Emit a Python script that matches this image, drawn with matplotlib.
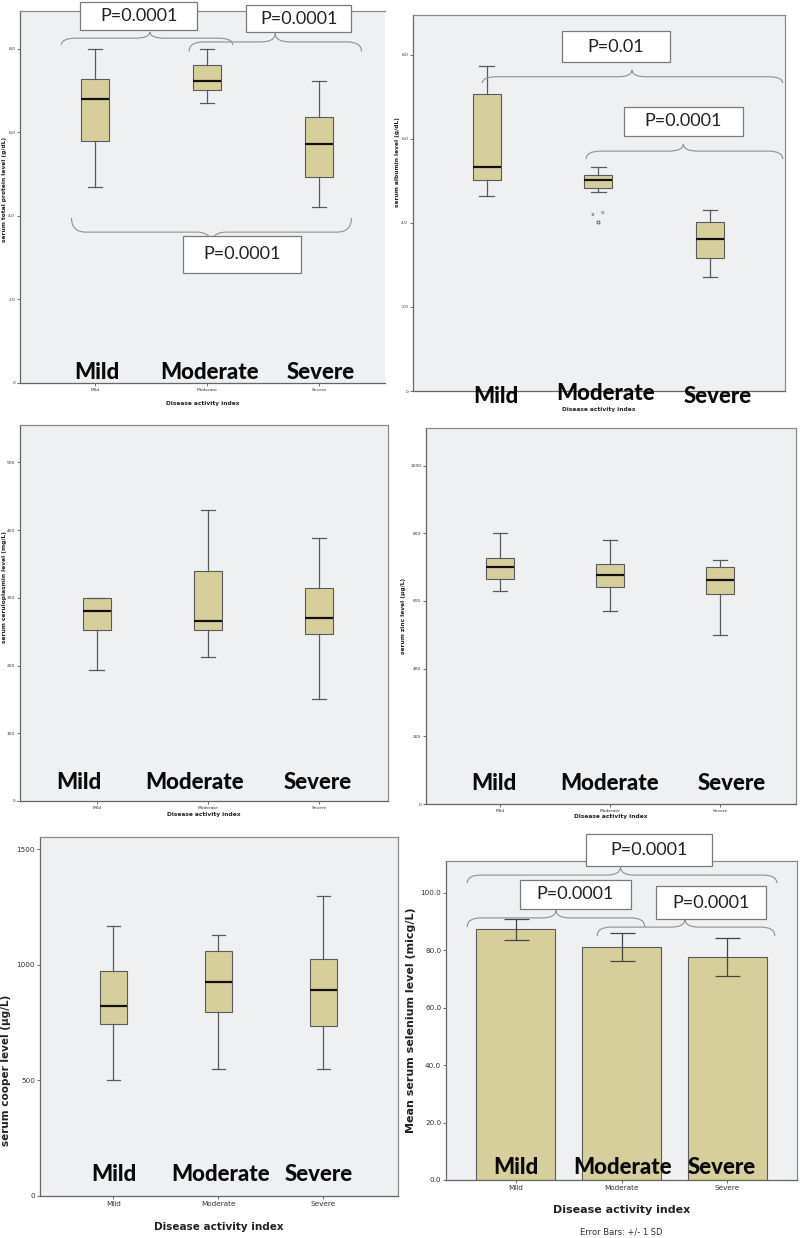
import matplotlib
matplotlib.use("Agg")
import matplotlib.pyplot as plt
from matplotlib.path import Path
from matplotlib.patches import PathPatch, Rectangle

W, H = 800, 1238

groups = ["Mild", "Moderate", "Severe"]
positions = [1, 2, 3]

# box summaries: [low whisker, Q1, median, Q3, high whisker]
protein_stats = [[4.7, 5.8, 6.8, 7.27, 8.0],
                 [6.7, 7.0, 7.22, 7.61, 8.0],
                 [4.2, 4.94, 5.71, 6.36, 7.22]]
albumin_stats = [[4.63, 5.03, 5.33, 7.08, 7.74],
                 [4.73, 4.83, 5.03, 5.13, 5.33],
                 [2.71, 3.17, 3.62, 4.02, 4.32]]
albumin_outlier = 4.03
albumin_outlier_ids = ["34", "52"]
cerulo_stats = [[193, 253, 281, 299, 300],
                [213, 252, 266, 340, 430],
                [150, 246, 270, 315, 388]]
zinc_stats = [[630, 665, 701, 727, 800],
              [570, 640, 677, 710, 780],
              [500, 621, 661, 701, 721]]
copper_stats = [[504, 743, 822, 974, 1170],
                [551, 795, 926, 1061, 1130],
                [551, 736, 892, 1025, 1299]]
selenium_mean = [87.2, 81.0, 77.6]
selenium_sd = [3.6, 4.9, 6.5]

BG = "#eff0f2"
FILL = "#d6cf9c"
EDGE = "#5a5a5a"
BRACE = "#8f8f8f"
BIG = dict(family="Lato", fontsize=16, fontweight=900, color="#0a0a0a")
PFONT = dict(family="Lato", fontsize=13, color="#222222")

fig = plt.figure(figsize=(W / 100, H / 100), dpi=100)


def make_axes(x0, y0, x1, y1):
    return fig.add_axes([x0 / W, 1 - y1 / H, (x1 - x0) / W, (y1 - y0) / H])


def style(ax, xlim, ylim, yticks, ylabels, small=3.2, show_x=True):
    ax.set_facecolor(BG)
    ax.set_xlim(*xlim)
    ax.set_ylim(*ylim)
    ax.set_yticks(yticks)
    ax.set_yticklabels(ylabels)
    ax.set_xticks(positions)
    ax.set_xticklabels(groups if show_x else ["", "", ""])
    ax.tick_params(labelsize=small, length=2, width=0.6, color="#555555",
                   pad=1.5, labelcolor="#333333")
    for s in ax.spines.values():
        s.set_color("#8c8c8c")
        s.set_linewidth(0.9)
    ax.spines["bottom"].set_color("#666666")
    ax.spines["left"].set_color("#666666")


def draw_boxes(ax, stats):
    bx = [dict(whislo=s[0], q1=s[1], med=s[2], q3=s[3], whishi=s[4], fliers=[])
          for s in stats]
    ax.bxp(bx, positions=positions, widths=0.25, patch_artist=True,
           showfliers=False, manage_ticks=False,
           boxprops=dict(facecolor=FILL, edgecolor=EDGE, linewidth=0.8),
           medianprops=dict(color="#111111", linewidth=1.6),
           whiskerprops=dict(color=EDGE, linewidth=0.9),
           capprops=dict(color=EDGE, linewidth=0.9), capwidths=0.13)


def brace(ax, x0, x1, tip, y_end, y_line, y_tip, dx=0.13):
    verts = [(x0, y_end), (x0, y_line), (x0 + dx, y_line),
             (tip - dx, y_line), (tip, y_line), (tip, y_tip),
             (tip, y_line), (tip + dx, y_line),
             (x1 - dx, y_line), (x1, y_line), (x1, y_end)]
    codes = [Path.MOVETO, Path.CURVE3, Path.CURVE3,
             Path.LINETO, Path.CURVE3, Path.CURVE3,
             Path.CURVE3, Path.CURVE3,
             Path.LINETO, Path.CURVE3, Path.CURVE3]
    ax.add_patch(PathPatch(Path(verts, codes), facecolor="none",
                           edgecolor=BRACE, linewidth=0.8, clip_on=False,
                           zorder=5))


def pbox(ax, x0, x1, y0, y1, text):
    ax.add_patch(Rectangle((x0, y0), x1 - x0, y1 - y0, facecolor="white",
                           edgecolor="#7a7a7a", linewidth=0.9, clip_on=False,
                           zorder=6))
    ax.text((x0 + x1) / 2, (y0 + y1) / 2, text, ha="center", va="center",
            zorder=7, clip_on=False, **PFONT)


def big_labels(ax, xs, ys):
    for g, x, y in zip(groups, xs, ys):
        ax.text(x, y, g, ha="center", va="center", clip_on=False, zorder=8,
                **BIG)


def labels(ax, ylab, ypos, xly, size=4.2, xsize=4.2):
    ax.set_ylabel(ylab, fontsize=size, fontweight="bold", color="#222222")
    ax.yaxis.set_label_coords(ypos[0], ypos[1])
    ax.text(0.5, xly, "Disease activity index", transform=ax.transAxes,
            ha="center", va="center", fontsize=xsize, fontweight="bold",
            color="#222222")


# ---- total protein
ax1 = make_axes(20, 11, 385, 383)
draw_boxes(ax1, protein_stats)
style(ax1, (0.33, 3.59), (0, 8.9), [0, 2, 4, 6, 8],
      ["0", "2.0", "4.0", "6.0", "8.0"])
ax1.spines["right"].set_visible(False)
labels(ax1, "serum total protein level (g/dL)", (-0.035, 0.52), -0.054)
brace(ax1, 0.70, 2.23, 1.49, 8.09, 8.25, 8.40)
pbox(ax1, 0.87, 1.91, 8.44, 9.11, "P=0.0001")
brace(ax1, 1.84, 3.38, 2.61, 7.93, 8.16, 8.37)
pbox(ax1, 2.35, 3.29, 8.40, 9.04, "P=0.0001")
brace(ax1, 0.79, 3.29, 2.04, 3.95, 3.61, 3.30)
pbox(ax1, 1.79, 2.84, 2.63, 3.52, "P=0.0001")
big_labels(ax1, [1.02, 2.02, 3.02], [0.26, 0.26, 0.26])

# ---- albumin
ax2 = make_axes(413, 15, 785, 391)
draw_boxes(ax2, albumin_stats)
style(ax2, (0.34, 3.67), (0, 8.95), [0, 2, 4, 6, 8],
      ["0", "2.0", "4.0", "6.0", "8.0"], show_x=False)
ax2.plot([2], [albumin_outlier], marker="o", ms=2.2, mfc="none",
         mec="#444444", mew=0.6)
ax2.text(1.95, albumin_outlier + 0.1, albumin_outlier_ids[0], fontsize=2.6,
         ha="center", va="bottom", color="#444444")
ax2.text(2.04, albumin_outlier + 0.15, albumin_outlier_ids[1], fontsize=2.6,
         ha="center", va="bottom", color="#444444")
labels(ax2, "serum albumin level (g/dL)", (-0.036, 0.61), -0.049)
brace(ax2, 0.96, 3.65, 2.30, 7.33, 7.48, 7.64)
pbox(ax2, 1.67, 2.64, 7.83, 8.57, "P=0.01")
brace(ax2, 1.89, 3.65, 2.76, 5.52, 5.71, 5.88)
pbox(ax2, 2.23, 3.29, 6.07, 6.76, "P=0.0001")
big_labels(ax2, [1.08, 2.06, 3.07], [-0.13, -0.05, -0.13])

# ---- ceruloplasmin
ax3 = make_axes(20, 425, 388, 801)
draw_boxes(ax3, cerulo_stats)
style(ax3, (0.31, 3.62), (0, 555), [0, 100, 200, 300, 400, 500],
      ["0", "100", "200", "300", "400", "500"])
labels(ax3, "serum ceruloplasmin level (mg/L)", (-0.035, 0.57), -0.037)
big_labels(ax3, [0.84, 1.88, 2.99], [28, 28, 28])

# ---- zinc
ax4 = make_axes(426, 428, 796, 804)
draw_boxes(ax4, zinc_stats)
style(ax4, (0.33, 3.69), (0, 1111), [0, 200, 400, 600, 800, 1000],
      ["0", "200", "400", "600", "800", "1000"])
labels(ax4, "serum zinc level (\u00b5g/L)", (-0.055, 0.5), -0.032)
big_labels(ax4, [0.95, 2.0, 3.11], [62, 62, 62])

# ---- copper
ax5 = make_axes(40, 837, 398, 1196)
draw_boxes(ax5, copper_stats)
style(ax5, (0.30, 3.71), (0, 1554), [0, 500, 1000, 1500],
      ["0", "500", "1000", "1500"], small=5.2)
labels(ax5, "serum cooper level (\u00b5g/L)", (-0.08, 0.35), -0.086,
       size=7.5, xsize=7.5)
big_labels(ax5, [1.0, 2.02, 2.95], [91, 91, 91])

# ---- selenium
ax6 = make_axes(446, 861, 797, 1180)
ax6.bar(positions, selenium_mean, width=0.75, color=FILL, edgecolor=EDGE,
        linewidth=0.8, zorder=2)
ax6.errorbar(positions, selenium_mean, yerr=selenium_sd, fmt="none",
             ecolor="#444444", elinewidth=0.9, capsize=9, capthick=0.9,
             zorder=3)
style(ax6, (0.34, 3.66), (0, 111), [0, 20, 40, 60, 80, 100],
      ["0.0", "20.0", "40.0", "60.0", "80.0", "100.0"], small=5.2)
labels(ax6, "Mean serum selenium level (micg/L)", (-0.085, 0.5), -0.094,
       size=8, xsize=8)
ax6.text(0.5, -0.163, "Error Bars: +/- 1 SD", transform=ax6.transAxes,
         ha="center", va="center", fontsize=6, color="#333333")
brace(ax6, 0.54, 3.47, 1.99, 103.3, 106.1, 108.9)
pbox(ax6, 1.66, 2.86, 109.3, 120.4, "P=0.0001")
brace(ax6, 0.54, 2.22, 1.38, 88.0, 91.2, 93.9)
pbox(ax6, 1.04, 2.09, 94.3, 104.4, "P=0.0001")
brace(ax6, 1.77, 3.45, 2.60, 84.9, 88.0, 90.8)
pbox(ax6, 2.33, 3.37, 90.8, 102.3, "P=0.0001")
big_labels(ax6, [1.0, 2.01, 2.95], [4.5, 4.5, 4.5])

fig.savefig("out.png", dpi=100, facecolor="white")
